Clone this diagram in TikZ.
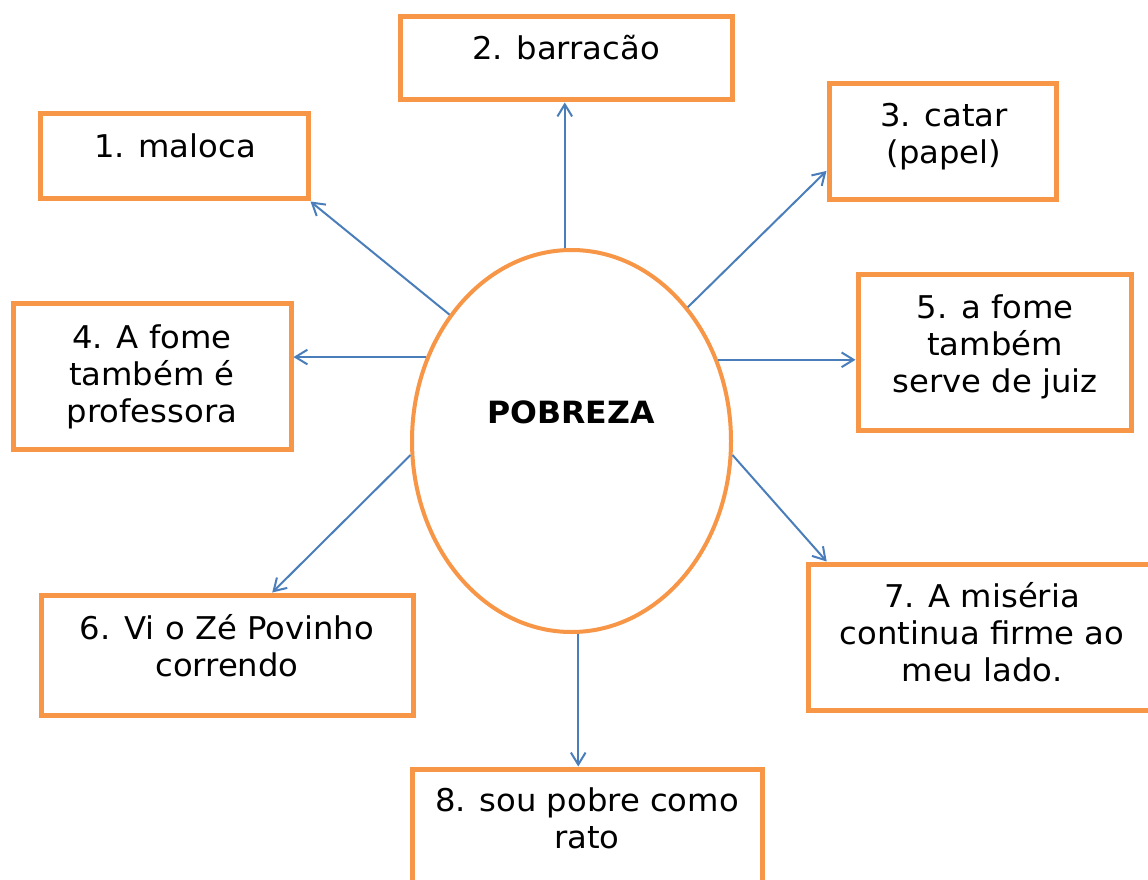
\documentclass[tikz,border=0pt]{standalone}
\usepackage{fontspec}
\setmainfont{DejaVu Sans}[FakeStretch=1.03]
\usetikzlibrary{arrows.meta,calc,shapes.geometric}
\definecolor{boxorange}{HTML}{F79646}
\definecolor{arrowblue}{HTML}{4A7EBB}
\tikzset{
  box/.style={draw=boxorange,line width=3.75pt,fill=white,rectangle},
  boxtext/.style={anchor=north,inner sep=0pt,align=center,
    font={\fontsize{23.5}{27.75}\selectfont},execute at begin node=\strut},
  link/.style={draw=arrowblue,line width=1.5pt,-{Straight Barb[length=9pt,width=11pt]}},
}
\begin{document}
\begin{tikzpicture}[x=0.75pt,y=-0.75pt]
\clip (0,0) rectangle (1148,880);
\fill[white] (0,0) rectangle (1148,880);
% boxes (px coordinates, y downwards)
\node[box,minimum width=268*0.75pt,minimum height=85*0.75pt] (b1) at (174,156.5) {};
\node[box,minimum width=332*0.75pt,minimum height=83*0.75pt] (b2) at (566,58.5) {};
\node[box,minimum width=227*0.75pt,minimum height=116*0.75pt] (b3) at (942.5,142) {};
\node[box,minimum width=278*0.75pt,minimum height=145*0.75pt] (b4) at (152,376.5) {};
\node[box,minimum width=273*0.75pt,minimum height=155*0.75pt] (b5) at (994.5,352.5) {};
\node[box,minimum width=372*0.75pt,minimum height=120*0.75pt] (b6) at (227,655) {};
\node[box,minimum width=348*0.75pt,minimum height=146*0.75pt] (b7) at (982,637) {};
\node[box,minimum width=350*0.75pt,minimum height=130*0.75pt] (b8) at (587,834) {};
% ellipse
\node[ellipse,draw=boxorange,line width=3pt,fill=white,inner sep=0pt,
  minimum width=319*0.75pt,minimum height=382*0.75pt] (ell) at (571.5,441) {};
% texts (anchor north = first baseline - 0.7*37px)
\node[boxtext] (t1) at (175,131) {1. maloca};
\node[boxtext] (t2) at (566,33) {2. barracão};
\node[boxtext] (t3) at (944,103) {3. catar\\(papel)};
\node[boxtext] (t4) at (152,324) {4. A fome\\também é\\professora};
\node[boxtext] (t5) at (995,294) {5. a fome\\também\\serve de juiz};
\node[boxtext] (t6) at (227,614) {6. Vi o Zé Povinho\\correndo};
\node[boxtext] (t7) at (982,582) {7. A miséria\\continua firme ao\\meu lado.};
\node[boxtext] (t8) at (587,787) {8. sou pobre como\\rato};
\node[anchor=base,inner sep=0pt,font={\fontsize{23}{27}\selectfont\bfseries}] (tc) at (571,423) {POBREZA};
% connectors
\draw[link] (ell.134.4) -- (b1.south east);
\draw[link] (ell.92.2) -- (ell.92.2 |- b2.south);
\draw[link] (ell.49.9) -- (b3.194);
\draw[link] (ell.150.5) -- (ell.150.5 -| b4.east);
\draw[link] (ell.29.9) -- (ell.29.9 -| b5.west);
\draw[link] (ell.185) -- ($(b6.north west)!0.62!(b6.north east)$);
\draw[link] (ell.355) -- ($(b7.north west)!0.06!(b7.north east)$);
\draw[link] (ell.272.2) -- (ell.272.2 |- b8.north);
\end{tikzpicture}
\end{document}
